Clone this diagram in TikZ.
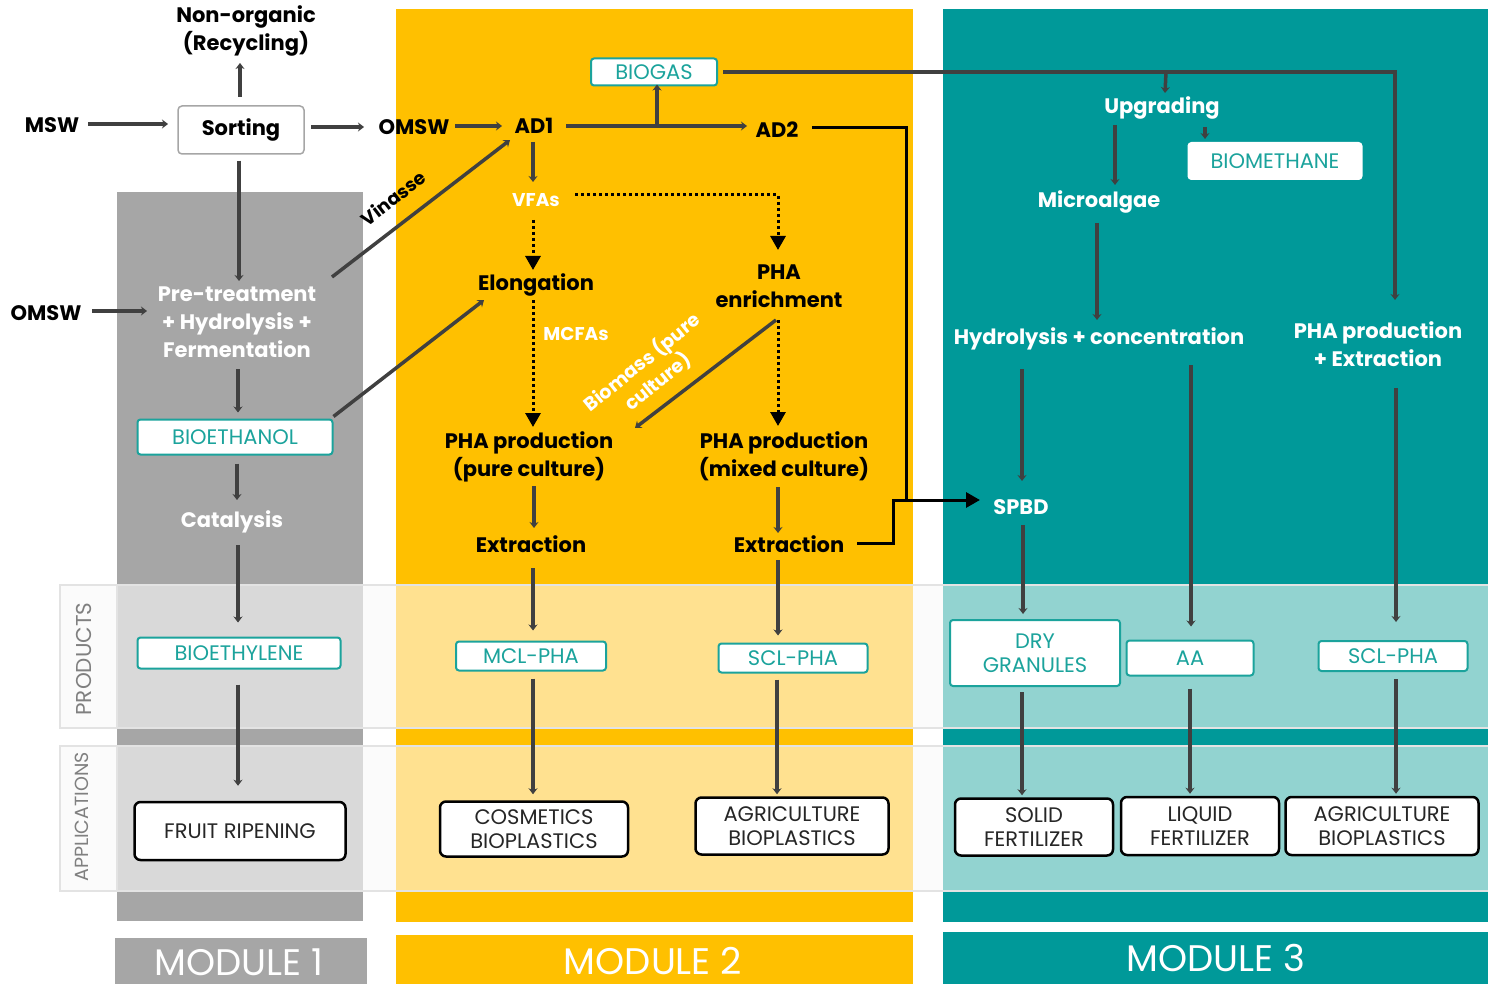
\documentclass[tikz,border=0pt]{standalone}
\usepackage{fontspec}
\setmainfont{Poppins}
\usetikzlibrary{arrows.meta,calc}
\definecolor{colgray}{HTML}{A6A6A6}
\definecolor{colyel}{HTML}{FFC000}
\definecolor{colteal}{HTML}{009999}
\definecolor{bandgray}{HTML}{D9D9D9}
\definecolor{bandyel}{HTML}{FFE190}
\definecolor{bandteal}{HTML}{92D3D0}
\definecolor{bandbg}{HTML}{FBFBFB}
\definecolor{bandline}{HTML}{E3E3E3}
\definecolor{tealc}{HTML}{1BA39C}
\definecolor{arrg}{HTML}{404040}
\definecolor{darkt}{HTML}{262626}
\definecolor{sidet}{HTML}{808080}
\begin{document}
\begin{tikzpicture}[x=1pt,y=-1pt,
  lbl/.style={font=\bfseries\fontsize{21}{28}\selectfont, align=center, inner sep=0pt, text=black},
  wlbl/.style={lbl, text=white},
  small/.style={font=\bfseries\fontsize{18.5}{24}\selectfont},
  sortbox/.style={draw=colgray, line width=1.5pt, fill=white, rounded corners=4pt, minimum width=126pt, minimum height=48pt, inner sep=0pt, font=\bfseries\fontsize{21}{24}\selectfont},
  tbox/.style={draw=tealc, line width=2pt, fill=white, text=tealc, font=\fontsize{21}{24}\selectfont, align=center, inner sep=0pt, rounded corners=3pt},
  abox/.style={draw=black, line width=2.5pt, fill=white, text=darkt, font=\fontsize{21}{24}\selectfont, align=center, inner sep=0pt, rounded corners=6pt},
  garr/.style={draw=arrg, line width=3.5pt, -{Stealth[length=6pt,width=9pt]}},
  dotarr/.style={draw=black, line width=3pt, dash pattern=on 3pt off 3pt, -{Triangle[length=14pt,width=15pt]}},
  blkarr/.style={draw=black, line width=3pt, -{Triangle[length=14pt,width=15pt]}},
  blk/.style={draw=black, line width=3pt},
  modlbl/.style={text=white, font=\fontsize{37}{40}\selectfont, inner sep=0pt, anchor=center},
  sidelbl/.style={text=sidet, rotate=90, inner sep=0pt}
]
\useasboundingbox (0,0) rectangle (1488,984);
\fill[white] (0,0) rectangle (1488,984);
% columns
\fill[colgray] (117,192) rectangle (363,921);
\fill[colyel] (396,9) rectangle (913,922);
\fill[colteal] (943,9) rectangle (1488,922);
% bands
\foreach \ya/\yb in {585/728, 746/891}{
  \fill[bandbg] (60,\ya) rectangle (1488,\yb);
  \fill[bandgray] (117,\ya) rectangle (363,\yb);
  \fill[bandyel] (396,\ya) rectangle (913,\yb);
  \fill[bandteal] (943,\ya) rectangle (1488,\yb);
  \draw[bandline, line width=1.5pt] (60,\ya) rectangle (1490,\yb);
  \draw[bandline, line width=1.5pt] (117,\ya) -- (117,\yb);
}
\node[sidelbl, font=\fontsize{21.5}{24}\selectfont] (prod) at (84,659) {PRODUCTS};
\node[sidelbl, font=\fontsize{19}{22}\selectfont] (appl) at (82,817) {APPLICATIONS};
% module labels
\fill[colgray] (115,938) rectangle (367,984);
\fill[colyel] (396,935) rectangle (913,984);
\fill[colteal] (943,932) rectangle (1488,984);
\node[modlbl] (m1) at (239,962) {MODULE 1};
\node[modlbl] (m2) at (653,961) {MODULE 2};
\node[modlbl] (m3) at (1216,958) {MODULE 3};

% ---------- nodes: module 1 / top ----------
\node[lbl] (nonorg) at (246,31) {Non-organic\\(Recycling)};
\node[lbl] (msw) at (52,125) {MSW};
\node[sortbox] (sort) at (241,130) {Sorting};
\node[lbl] (omsw1) at (414,127) {OMSW};
\node[lbl] (omsw2) at (46,313) {OMSW};
\node[wlbl] (pre) at (237,322) {Pre-treatment\\+ Hydrolysis +\\Fermentation};
\node[tbox, minimum width=195pt, minimum height=35pt] (bioeth) at (235,437) {BIOETHANOL};
\node[wlbl] (catal) at (232,522) {Catalysis};
\node[tbox, minimum width=203pt, minimum height=31pt] (bioethyl) at (239,653) {BIOETHYLENE};
\node[abox, minimum width=211pt, minimum height=58pt] (fruit) at (240,831) {FRUIT RIPENING};
\node[lbl, small, rotate=37.6] (vinasse) at (393,198) {Vinasse};

% ---------- module 2 ----------
\node[lbl] (ad1) at (534,126) {AD1};
\node[tbox, minimum width=126pt, minimum height=27pt] (biogas) at (654,72) {BIOGAS};
\node[lbl] (ad2) at (777,130) {AD2};
\node[wlbl, small] (vfas) at (536,200) {VFAs};
\node[lbl] (elong) at (536,285) {Elongation};
\node[lbl] (phaenr) at (779,286) {PHA\\enrichment};
\node[wlbl, small] (mcfas) at (576,334) {MCFAs};
\node[wlbl, font=\bfseries\fontsize{19}{25}\selectfont, rotate=39] (biomass) at (650,372) {Biomass (pure\\culture)};
\node[lbl] (phapure) at (529,457) {PHA production\\(pure culture)};
\node[lbl] (phamix) at (784,456) {PHA production\\(mixed culture)};
\node[lbl] (extr1) at (531,544) {Extraction};
\node[lbl] (extr2) at (789,544) {Extraction};
\node[tbox, minimum width=150pt, minimum height=29pt] (mclpha) at (531,656) {MCL-PHA};
\node[tbox, minimum width=149pt, minimum height=29pt] (sclpha1) at (793,658) {SCL-PHA};
\node[abox, minimum width=188pt, minimum height=55pt] (cosm) at (534,829) {COSMETICS\\BIOPLASTICS};
\node[abox, minimum width=193pt, minimum height=57pt] (agri1) at (792,826) {AGRICULTURE\\BIOPLASTICS};

% ---------- module 3 ----------
\node[wlbl] (upg) at (1162,108) {Upgrading};
\node[tbox, draw=white, minimum width=173pt, minimum height=36pt] (biometh) at (1275,161) {BIOMETHANE};
\node[wlbl] (micro) at (1099,202) {Microalgae};
\node[wlbl] (hyd) at (1099,339) {Hydrolysis + concentration};
\node[wlbl] (phaext) at (1378,344) {PHA production\\+ Extraction};
\node[wlbl] (spbd) at (1021,507) {SPBD};
\node[tbox, minimum width=170pt, minimum height=66pt] (dry) at (1035,653) {DRY\\GRANULES};
\node[tbox, minimum width=127pt, minimum height=35pt] (aa) at (1190,658) {AA};
\node[tbox, minimum width=149pt, minimum height=30pt] (sclpha2) at (1393,656) {SCL-PHA};
\node[abox, minimum width=158pt, minimum height=57pt] (solid) at (1034,827) {SOLID\\FERTILIZER};
\node[abox, minimum width=158pt, minimum height=58pt] (liquid) at (1200,826) {LIQUID\\FERTILIZER};
\node[abox, minimum width=193pt, minimum height=58pt] (agri2) at (1382,826) {AGRICULTURE\\BIOPLASTICS};

% ---------- connectors: module 1 / top ----------
\draw[garr] ($(sort)+(-1,-33)$) -- ($(nonorg)+(-6,32)$);
\draw[garr] ($(msw)+(36,-1)$) -- ($(sort)+(-73,-6)$);
\draw[garr, line width=4.5pt] ($(sort)+(70,-3)$) -- ($(omsw1)+(-50,0)$);
\draw[garr] ($(omsw1)+(41,-1)$) -- ($(ad1)+(-32,0)$);
\draw[garr] ($(sort.south)+(-2,6)$) -- ($(pre)+(2,-41)$);
\draw[garr, line width=4.5pt] ($(omsw2)+(46,-2)$) -- ($(pre)+(-90,-11)$);
\draw[garr] ($(pre)+(95,-45)$) -- ($(ad1)+(-24,14)$);
\draw[garr] ($(pre)+(1,47)$) -- ($(bioeth.north)+(3,-6)$);
\draw[garr] ($(bioeth.north east)+(0,-2)$) -- ($(elong)+(-52,15)$);
\draw[garr] ($(bioeth.south)+(2,8)$) -- ($(catal)+(5,-22)$);
\draw[garr] ($(catal)+(6,23)$) -- ($(bioethyl.north)+(-1,-14)$);
\draw[garr] ($(bioethyl.south)+(-1,15)$) -- ($(fruit.north)+(-2,-15)$);

% ---------- connectors: module 2 ----------
\draw[garr] ($(ad1)+(32,0)$) -- ($(ad2)+(-30,-4)$);
\draw[garr] ($(ad1)+(123,0)$) -- ($(biogas.south)+(3,-2)$);
\draw[garr] ($(ad1)+(-1,16)$) -- ($(vfas)+(-3,-18)$);
\draw[dotarr] ($(vfas)+(-3,20)$) -- ($(elong)+(-3,-15)$);
\draw[dotarr] ($(vfas)+(39,-5)$) -| ($(phaenr)+(-1,-36)$);
\draw[dotarr] ($(elong)+(-3,15)$) -- ($(phapure)+(4,-30)$);
\draw[garr] ($(phaenr)+(-3,34)$) -- ($(phapure)+(106,-29)$);
\draw[dotarr] ($(phaenr)+(-1,34)$) -- ($(phamix)+(-6,-30)$);
\draw[garr] ($(phapure)+(5,29)$) -- ($(extr1)+(3,-16)$);
\draw[garr] ($(phamix)+(-6,31)$) -- ($(extr2)+(-11,-11)$);
\draw[garr] ($(extr1)+(2,24)$) -- ($(mclpha.north)+(2,-10)$);
\draw[garr] ($(extr2)+(-11,16)$) -- ($(sclpha1.north)+(-15,-7)$);
\draw[garr] ($(mclpha.south)+(2,7)$) -- ($(cosm.north)+(-1,-6)$);
\draw[garr] ($(sclpha1.south)+(-16,6)$) -- ($(agri1.north)+(-15,-2)$);
\draw[blkarr] ($(ad2)+(35,-2)$) -- ($(ad2)+(129,-2)$) |- ($(spbd)+(-41,-7)$);
\draw[blk] ($(extr2)+(68,-1)$) -| ($(spbd)+(-128,-7)$) -- ($(spbd)+(-113,-7)$);

% ---------- connectors: module 3 ----------
\draw[garr] ($(biogas.east)+(5,0)$) -| ($(phaext)+(17,-44)$);
\draw[garr] ($(biogas.east)+(448,0)$) -- ($(upg)+(3,-15)$);
\draw[garr] ($(upg)+(-47,17)$) -- ($(micro)+(16,-17)$);
\draw[garr] ($(upg)+(43,19)$) -- ($(biometh.north)+(-70,-3)$);
\draw[garr] ($(micro)+(-2,21)$) -- ($(hyd)+(-2,-19)$);
\draw[garr] ($(hyd)+(-77,30)$) -- ($(spbd)+(1,-26)$);
\draw[garr] ($(hyd)+(92,26)$) -- ($(aa.north)+(1,-13)$);
\draw[garr] ($(phaext)+(18,44)$) -- ($(sclpha2.north)+(3,-18)$);
\draw[garr] ($(spbd)+(2,18)$) -- ($(dry.north)+(-12,-5)$);
\draw[garr] ($(dry.south)+(-13,5)$) -- ($(solid.north)+(-12,-2)$);
\draw[garr] ($(aa.south)+(0,12)$) -- ($(liquid.north)+(-10,-2)$);
\draw[garr] ($(sclpha2.south)+(3,7)$) -- ($(agri2.north)+(14,-2)$);
\end{tikzpicture}
\end{document}
